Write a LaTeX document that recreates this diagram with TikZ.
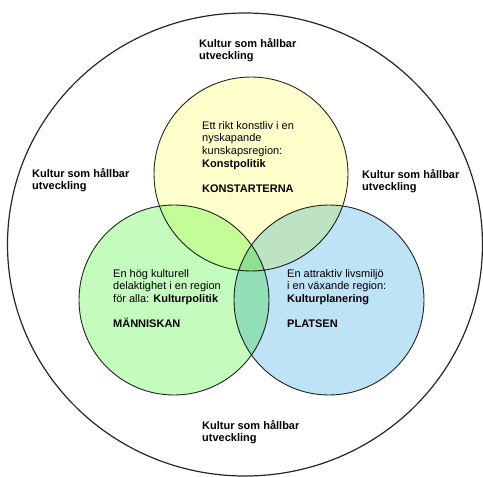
\documentclass[tikz,border=0pt]{standalone}
\usepackage{fontspec}
\setmainfont{Liberation Sans}
\definecolor{konstgul}{RGB}{255,255,204}
\definecolor{manngron}{RGB}{196,252,190}
\definecolor{platsbla}{RGB}{190,226,246}
\begin{document}
\begin{tikzpicture}[x=1pt,y=-1pt,
    ring/.style={draw=black!85,line width=0.9pt,blend mode=multiply},
    txt/.style={anchor=north west,inner sep=0pt,align=left,font=\fontsize{11}{12.7}\selectfont}]
    \useasboundingbox (0,0) rectangle (483,477);
    \draw[black!85,line width=1.2pt] (245,244.5) ellipse [x radius=237.5pt, y radius=231.5pt];
    % the three circles
    \draw[ring,fill=konstgul] (251,174) circle [radius=97pt];
    \draw[ring,fill=manngron] (174,300) circle [radius=95pt];
    \draw[ring,fill=platsbla] (329,300) circle [radius=95pt];
    % texts
    \node[txt] (topp) at (199,38) {\textbf{Kultur som hållbar}\\\textbf{utveckling}};
    \node[txt] (vanster) at (32,168) {\textbf{Kultur som hållbar}\\\textbf{utveckling}};
    \node[txt] (hoger) at (362,169) {\textbf{Kultur som hållbar}\\\textbf{utveckling}};
    \node[txt] (botten) at (202,420) {\textbf{Kultur som hållbar}\\\textbf{utveckling}};
    \node[txt] (konst) at (202,121) {Ett rikt konstliv i en\\nyskapande\\kunskapsregion:\\\textbf{Konstpolitik}\\[12.7pt]\textbf{KONSTARTERNA}};
    \node[txt] (manniska) at (113,269) {En hög kulturell\\delaktighet i en region\\för alla: \textbf{Kulturpolitik}\\[12.7pt]\textbf{MÄNNISKAN}};
    \node[txt] (plats) at (287,269) {En attraktiv livsmiljö\\i en växande region:\\\textbf{Kulturplanering}\\[12.7pt]\textbf{PLATSEN}};
\end{tikzpicture}
\end{document}
